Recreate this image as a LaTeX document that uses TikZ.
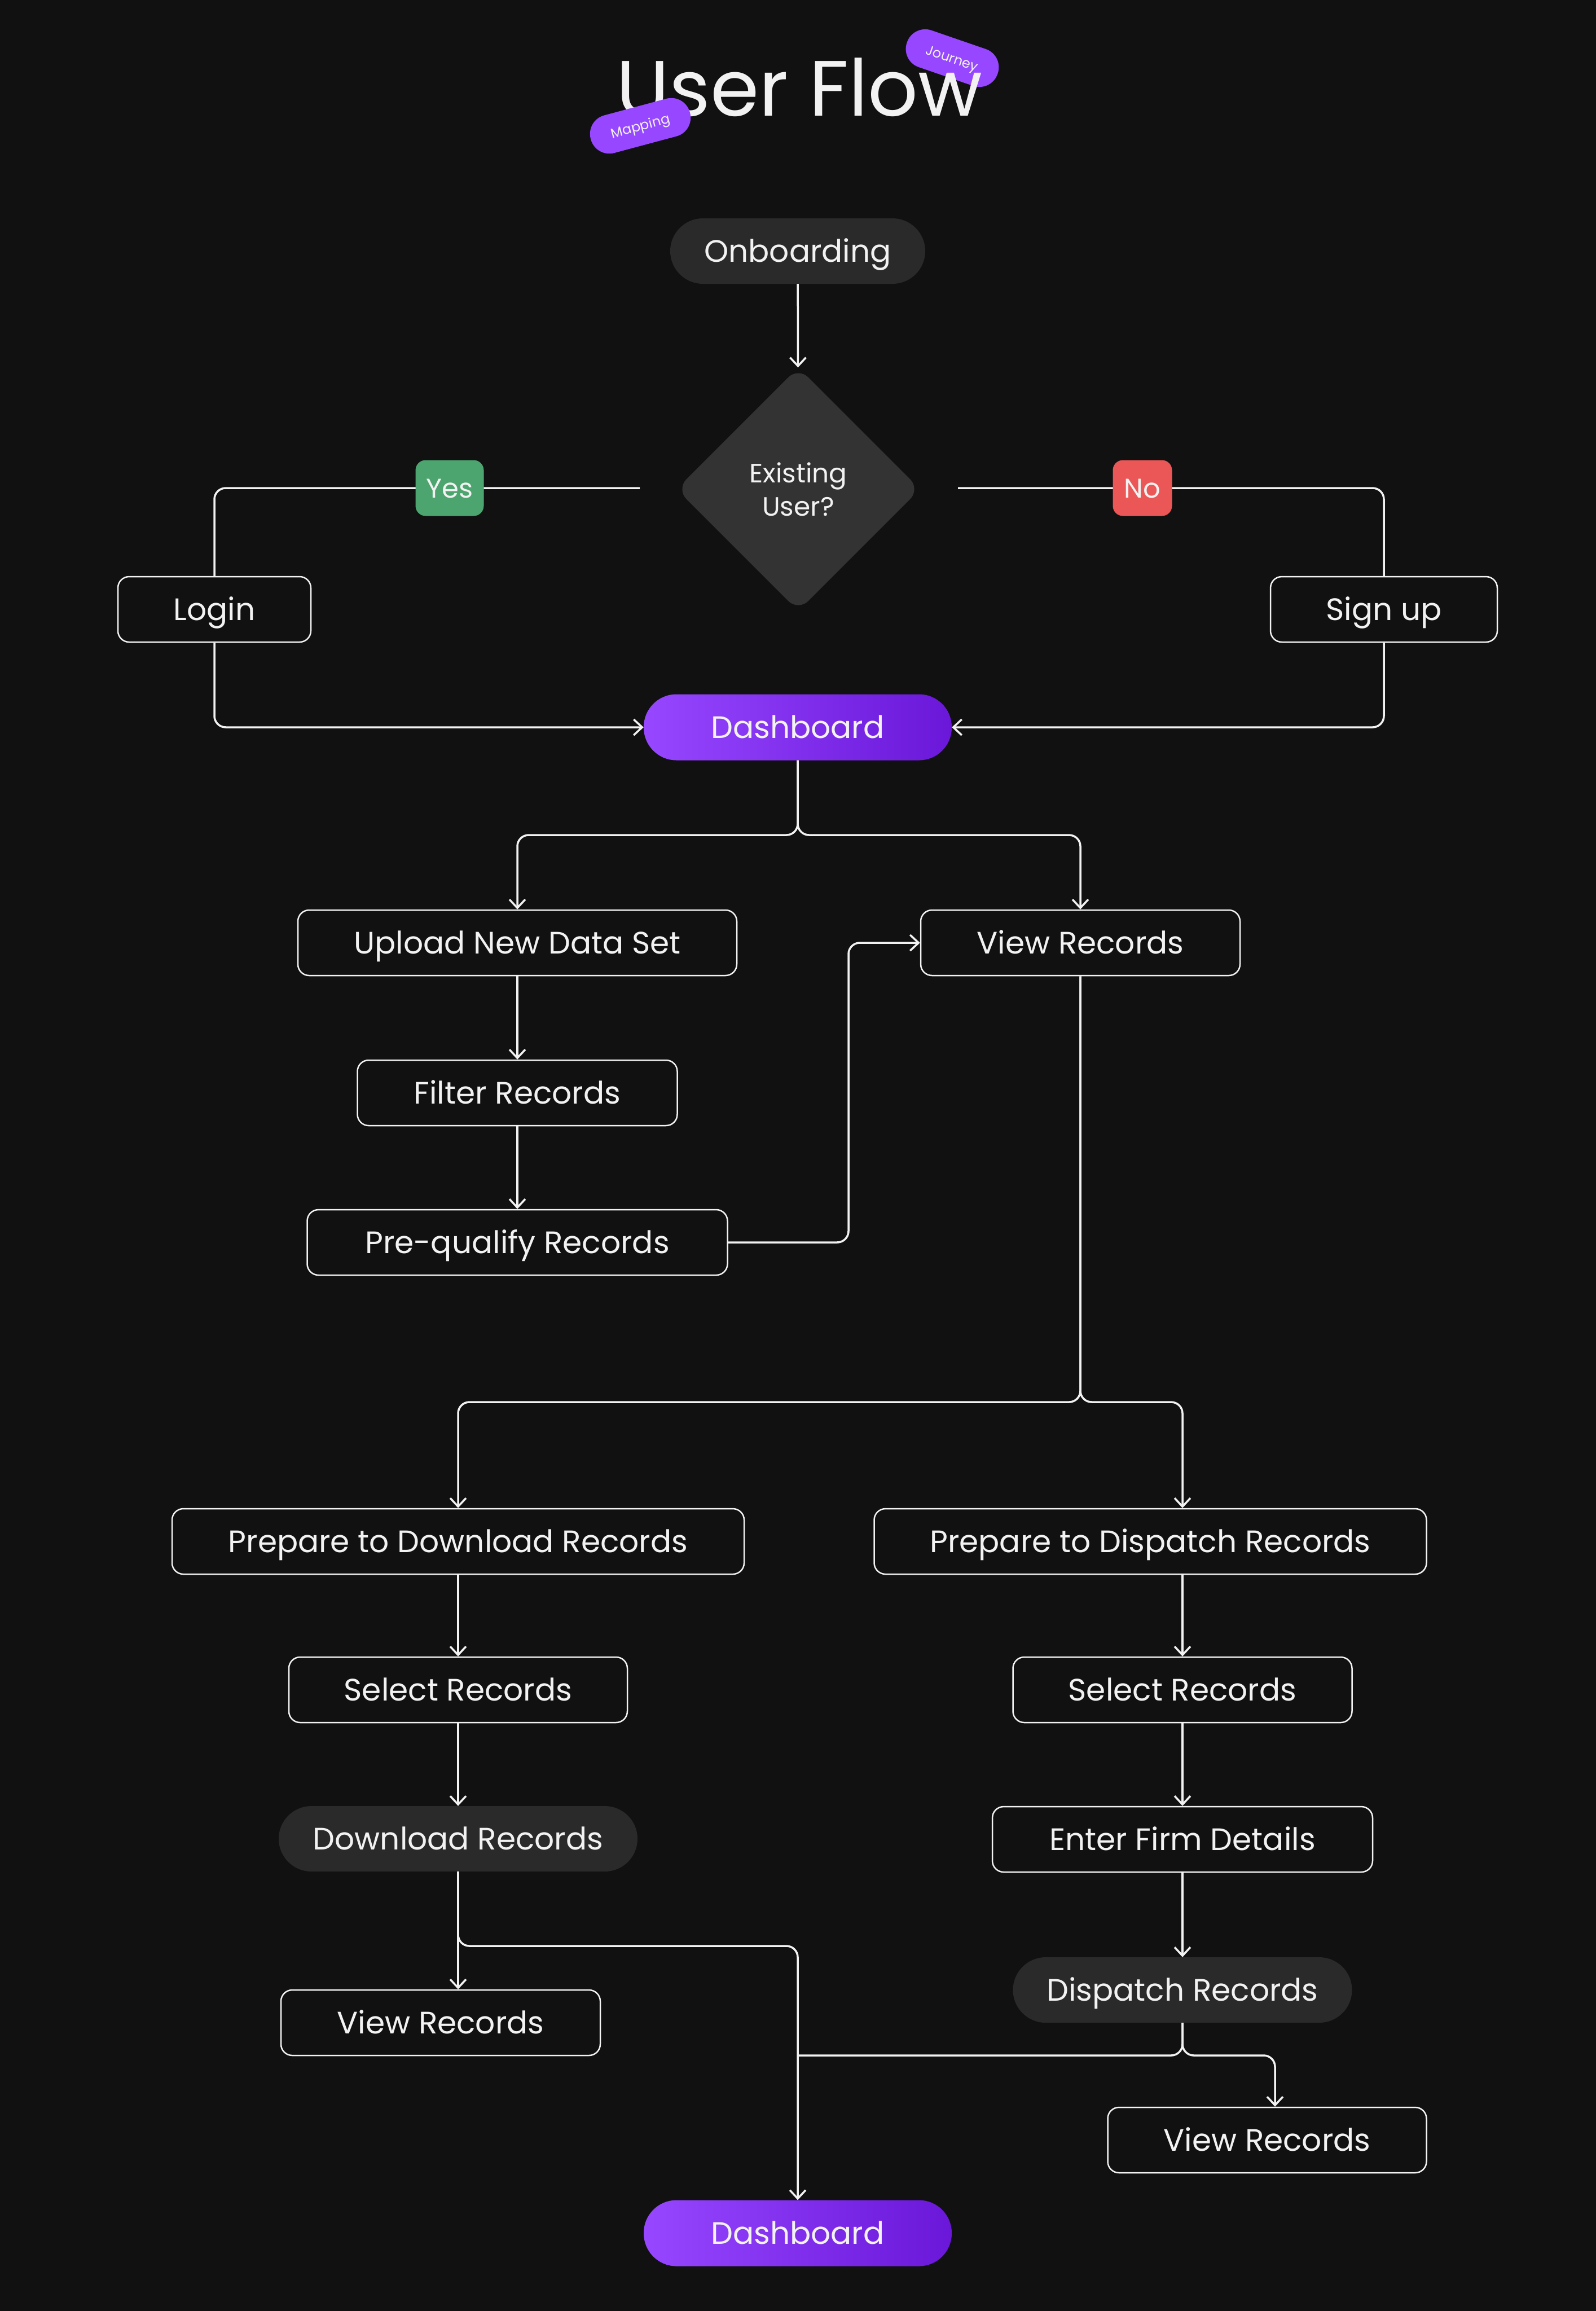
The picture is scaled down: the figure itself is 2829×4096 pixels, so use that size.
\documentclass[tikz,border=0pt]{standalone}
\usepackage{fontspec}
\setmainfont{Poppins}
\usetikzlibrary{shapes.geometric, arrows.meta}

\definecolor{bgc}{HTML}{111111}
\definecolor{pillc}{HTML}{2A2A2A}
\definecolor{diac}{HTML}{333333}
\definecolor{txtc}{HTML}{F2F2F2}
\definecolor{yesc}{HTML}{4CA56E}
\definecolor{noc}{HTML}{EB5757}
\definecolor{purpL}{HTML}{9747FF}
\definecolor{purpR}{HTML}{6A17D9}

\tikzset{
  lbl/.style={text=txtc, font=\fontsize{55}{60}\selectfont, inner sep=0pt, text height=38.5pt, text depth=0pt},
  box/.style={lbl, draw=txtc, line width=2.5pt, rounded corners=20pt, fill=bgc, minimum height=116pt},
  pill/.style={lbl, fill=pillc, rounded corners=58pt, minimum height=116pt},
  dashnode/.style={lbl, left color=purpL, right color=purpR, rounded corners=58pt, minimum height=117pt, minimum width=546pt},
  conn/.style={draw=txtc, line width=3.5pt, rounded corners=20pt},
  arr/.style={conn, -{Straight Barb[length=15pt,width=28pt]}},
  tag/.style={text=txtc, font=\fontsize{48}{50}\selectfont, inner sep=0pt, text height=34pt, text depth=0pt, rounded corners=18pt, minimum height=99pt},
  badge/.style={fill=purpL, text=txtc, font=\fontsize{24}{26}\selectfont, inner sep=0pt, text height=17pt, text depth=0pt, rounded corners=34pt, minimum height=69pt}
}

\begin{document}
\begin{tikzpicture}[x=1pt, y=-1pt]
  \fill[bgc] (0,0) rectangle (2829,4096);
  \useasboundingbox (0,0) rectangle (2829,4096);

  % title
  \node[badge, rotate=-19, minimum width=170pt] (journey) at (1688,103) {Journey};
  \node[text=txtc, font=\fontsize{139}{142}\selectfont, anchor=base, inner sep=0pt] (title) at (1417,205) {User Flow};
  \node[badge, rotate=15, minimum width=182pt] (mapping) at (1135,223) {Mapping};

  \node[pill, minimum width=452pt] (onb) at (1414,445) {Onboarding};
  \node[diamond, aspect=1, fill=diac, minimum width=432pt, minimum height=432pt, inner sep=0pt,
        rounded corners=25pt, text=txtc, align=center, font=\fontsize{47}{59}\selectfont] (exist) at (1415,867) {Existing\\User?};
  \node[box, minimum width=342pt] (login) at (380,1080) {Login};
  \node[box, minimum width=402pt] (signup) at (2453,1080) {Sign up};
  \node[dashnode] (dash1) at (1414,1289) {Dashboard};

  \node[box, minimum width=778pt] (upload) at (917,1671) {Upload New Data Set};
  \node[box, minimum width=566pt] (view1) at (1915,1671) {View Records};
  \node[box, minimum width=567pt] (filter) at (917,1937) {Filter Records};
  \node[box, minimum width=745pt] (prequal) at (917,2202) {Pre-qualify Records};

  \node[box, minimum width=1014pt] (prepdl) at (812,2732) {Prepare to Download Records};
  \node[box, minimum width=979pt] (prepdp) at (2039,2732) {Prepare to Dispatch Records};
  \node[box, minimum width=600pt] (seldl) at (812,2995) {Select Records};
  \node[box, minimum width=601pt] (seldp) at (2096,2995) {Select Records};
  \node[pill, minimum width=636pt] (dl) at (812,3259) {Download Records};
  \node[box, minimum width=674pt] (firm) at (2096,3260) {Enter Firm Details};
  \node[pill, minimum width=601pt] (disp) at (2096,3527) {Dispatch Records};
  \node[box, minimum width=566pt] (view2) at (781,3585) {View Records};
  \node[box, minimum width=565pt] (view3) at (2246,3793) {View Records};
  \node[dashnode] (dash2) at (1414,3958) {Dashboard};

  \coordinate (exL) at (1134,865);
  \coordinate (exR) at (1698,865);
  \coordinate (d1split) at (1414,1480);
  \coordinate (pqup) at (1504,1671);
  \coordinate (v1split) at (1915,2485);
  \coordinate (dlturn) at (1414,3449);
  \coordinate (dpjoin) at (1414,3643);
  \coordinate (v3turn) at (2260,3643);

  \draw[arr] (onb) -- (exist);
  \draw[conn] (exL) -| (login.north);
  \draw[conn] (exR) -| (signup.north);
  \draw[arr] (login.south) |- (dash1.west);
  \draw[arr] (signup.south) |- (dash1.east);

  \draw[arr] (dash1.south) -- (d1split) -| (upload.north);
  \draw[arr] (dash1.south) -- (d1split) -| (view1.north);
  \draw[arr] (upload) -- (filter);
  \draw[arr] (filter) -- (prequal);
  \draw[arr] (prequal.east) -| (pqup) -- (view1.west);

  \draw[arr] (view1.south) -- (v1split) -| (prepdl.north);
  \draw[arr] (view1.south) -- (v1split) -| (seldp |- prepdp.north);
  \draw[arr] (prepdl) -- (seldl);
  \draw[arr] (seldl) -- (dl);
  \draw[arr] (seldp |- prepdp.south) -- (seldp);
  \draw[arr] (seldp) -- (firm);
  \draw[arr] (firm) -- (disp);

  \draw[arr] (dl.south) -- (dl.south |- view2.north);
  \draw[arr] (dl.south) |- (dlturn) -- (dash2.north);
  \draw[conn] (disp.south) |- (dpjoin);
  \draw[arr] (disp.south) |- (v3turn) -- (v3turn |- view3.north);

  \node[tag, fill=yesc, minimum width=121pt] (yes) at (797,865) {Yes};
  \node[tag, fill=noc, minimum width=105pt] (no) at (2025,865) {No};
\end{tikzpicture}
\end{document}
